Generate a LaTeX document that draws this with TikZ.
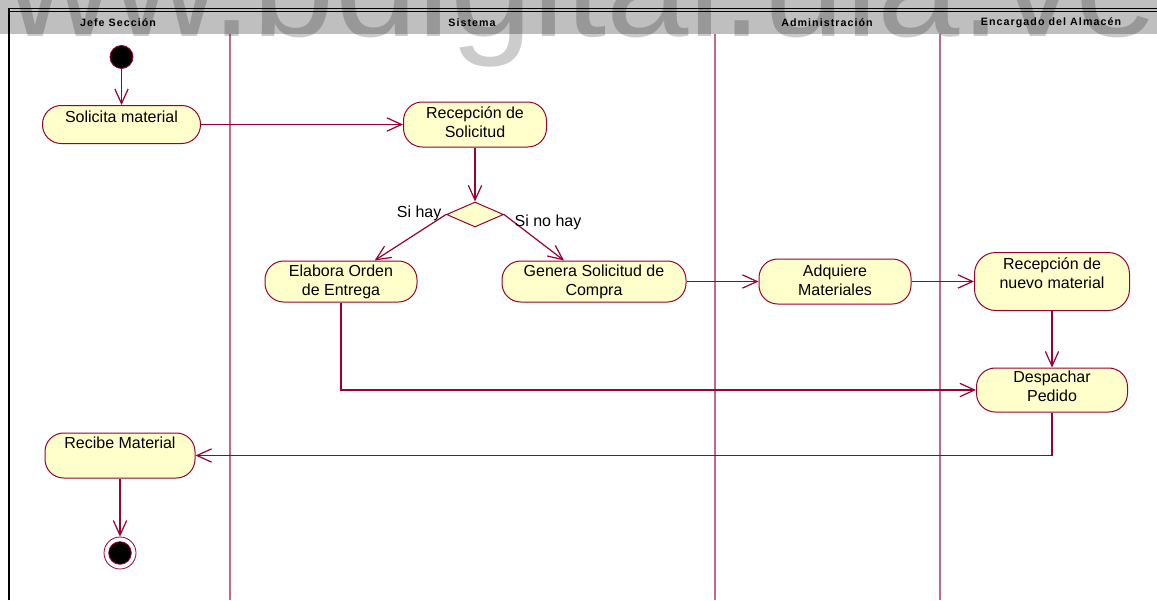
\documentclass[tikz,border=0pt]{standalone}
\usepackage{fontspec}
\setmainfont{Liberation Sans}
\newfontfamily\lanefont[LetterSpace=10]{Liberation Sans}
\usetikzlibrary{arrows.meta,shapes.geometric}
\definecolor{umlline}{RGB}{153,0,51}
\definecolor{umlfill}{RGB}{255,255,204}
\definecolor{lanegrid}{RGB}{196,104,140}
\tikzset{
  act/.style={draw=umlline, fill=umlfill, line width=0.75pt, rounded corners=14pt,
    inner sep=0pt, align=center, font=\fontsize{12}{14.25}\selectfont},
  sz/.style 2 args={minimum width=#1pt, minimum height=#2pt},
  lift/.style={text depth=#1},
  flow/.style={draw=umlline, line width=0.9pt, line join=miter,
    -{Straight Barb[length=11pt,width=10pt]}},
  lane/.style={draw=lanegrid, line width=1pt},
  lanehead/.style={font=\lanefont\bfseries\fontsize{8}{9.5}\selectfont, inner sep=0pt},
  guard/.style={font=\fontsize{12}{14}\selectfont, inner sep=0pt},
  startdot/.style={circle, draw=umlline, fill=black, line width=0.6pt, inner sep=0pt},
}
\begin{document}
\begin{tikzpicture}[x=0.75pt,y=-0.75pt]
\useasboundingbox (0,0) rectangle (1157,600);
\fill[white] (0,0) rectangle (1157,600);

% swimlane frame and dividers
\draw[black, line width=1.3pt] (9.3,600) -- (9.3,8.6) -- (1157,8.6);
\draw[black, line width=0.5pt] (10,10.9) -- (1157,10.9);
\draw[lane] (230,33.5) -- (230,600);
\draw[lane] (715,33.5) -- (715,600);
\draw[lane] (940,33.5) -- (940,600);

% lane headings
\node[lanehead] (h1) at (118,23) {Jefe Sección};
\node[lanehead] (h2) at (472,23) {Sistema};
\node[lanehead] (h3) at (827,23) {Administración};
\node[lanehead] (h4) at (1051,23) {Encargado del Almacén};

% activities
\node[startdot, minimum size=17.25pt] (start) at (121.5,57) {};
\node[act, sz={118.5}{28.5}, lift=12pt] (solicita) at (121.5,124.5) {Solicita material};
\node[act, sz={107.25}{33.75}, lift=3pt] (recsol) at (475,124.5) {Recepción de\\Solicitud};
\node[diamond, draw=umlline, fill=umlfill, line width=0.75pt, inner sep=0pt,
      sz={42.75}{18.75}] (dec) at (475,214.5) {};
\node[act, sz={114}{30.75}] (elabora) at (341,281.5) {Elabora Orden\\de Entrega};
\node[act, sz={138}{30.75}] (genera) at (594,281.5) {Genera Solicitud de\\Compra};
\node[act, sz={114}{33.75}, lift=2.2pt] (adquiere) at (835,281.5) {Adquiere\\Materiales};
\node[act, sz={116.25}{43.5}, lift=12.8pt, rounded corners=16pt] (recnuevo) at (1052,281.5) {Recepción de\\nuevo material};
\node[act, sz={113.25}{33}, lift=5.2pt] (despachar) at (1052,390) {Despachar\\Pedido};
\node[act, sz={112.5}{33.75}, lift=18.8pt] (recibe) at (120,455.5) {Recibe Material};
\node[circle, draw=umlline, fill=white, line width=0.6pt, minimum size=24pt, inner sep=0pt] (finish) at (120,553) {};
\node[startdot, minimum size=17pt] (finishdot) at (finish.center) {};

% flows
\draw[flow] (start) -- (solicita);
\draw[flow] (solicita) -- (recsol);
\draw[flow] (recsol) -- (dec);
\draw[flow] (dec.west) -- node[guard, pos=0, anchor=east, shift={(-4,-1.5)}] (g1) {Si hay} (elabora.32);
\draw[flow] (dec.east) -- node[guard, pos=0, anchor=west, shift={(10,7.5)}] (g2) {Si no hay} (genera.145);
\draw[flow] (genera) -- (adquiere);
\draw[flow] (adquiere) -- (recnuevo);
\draw[flow] (recnuevo) -- (despachar);
\draw[flow] (elabora.south) |- (despachar.west);
\draw[flow] (despachar.south) |- (recibe.east);
\draw[flow] (recibe) -- (finish);

% site watermark across the top
\node[anchor=base west, inner sep=0pt, text=black, opacity=0.2,
      font=\fontsize{111}{111}\selectfont] (wm) at (-101,36) {www.bdigital.ula.ve};
\fill[black, opacity=0.25] (0,0) rectangle (1157,33.5);
\end{tikzpicture}
\end{document}
